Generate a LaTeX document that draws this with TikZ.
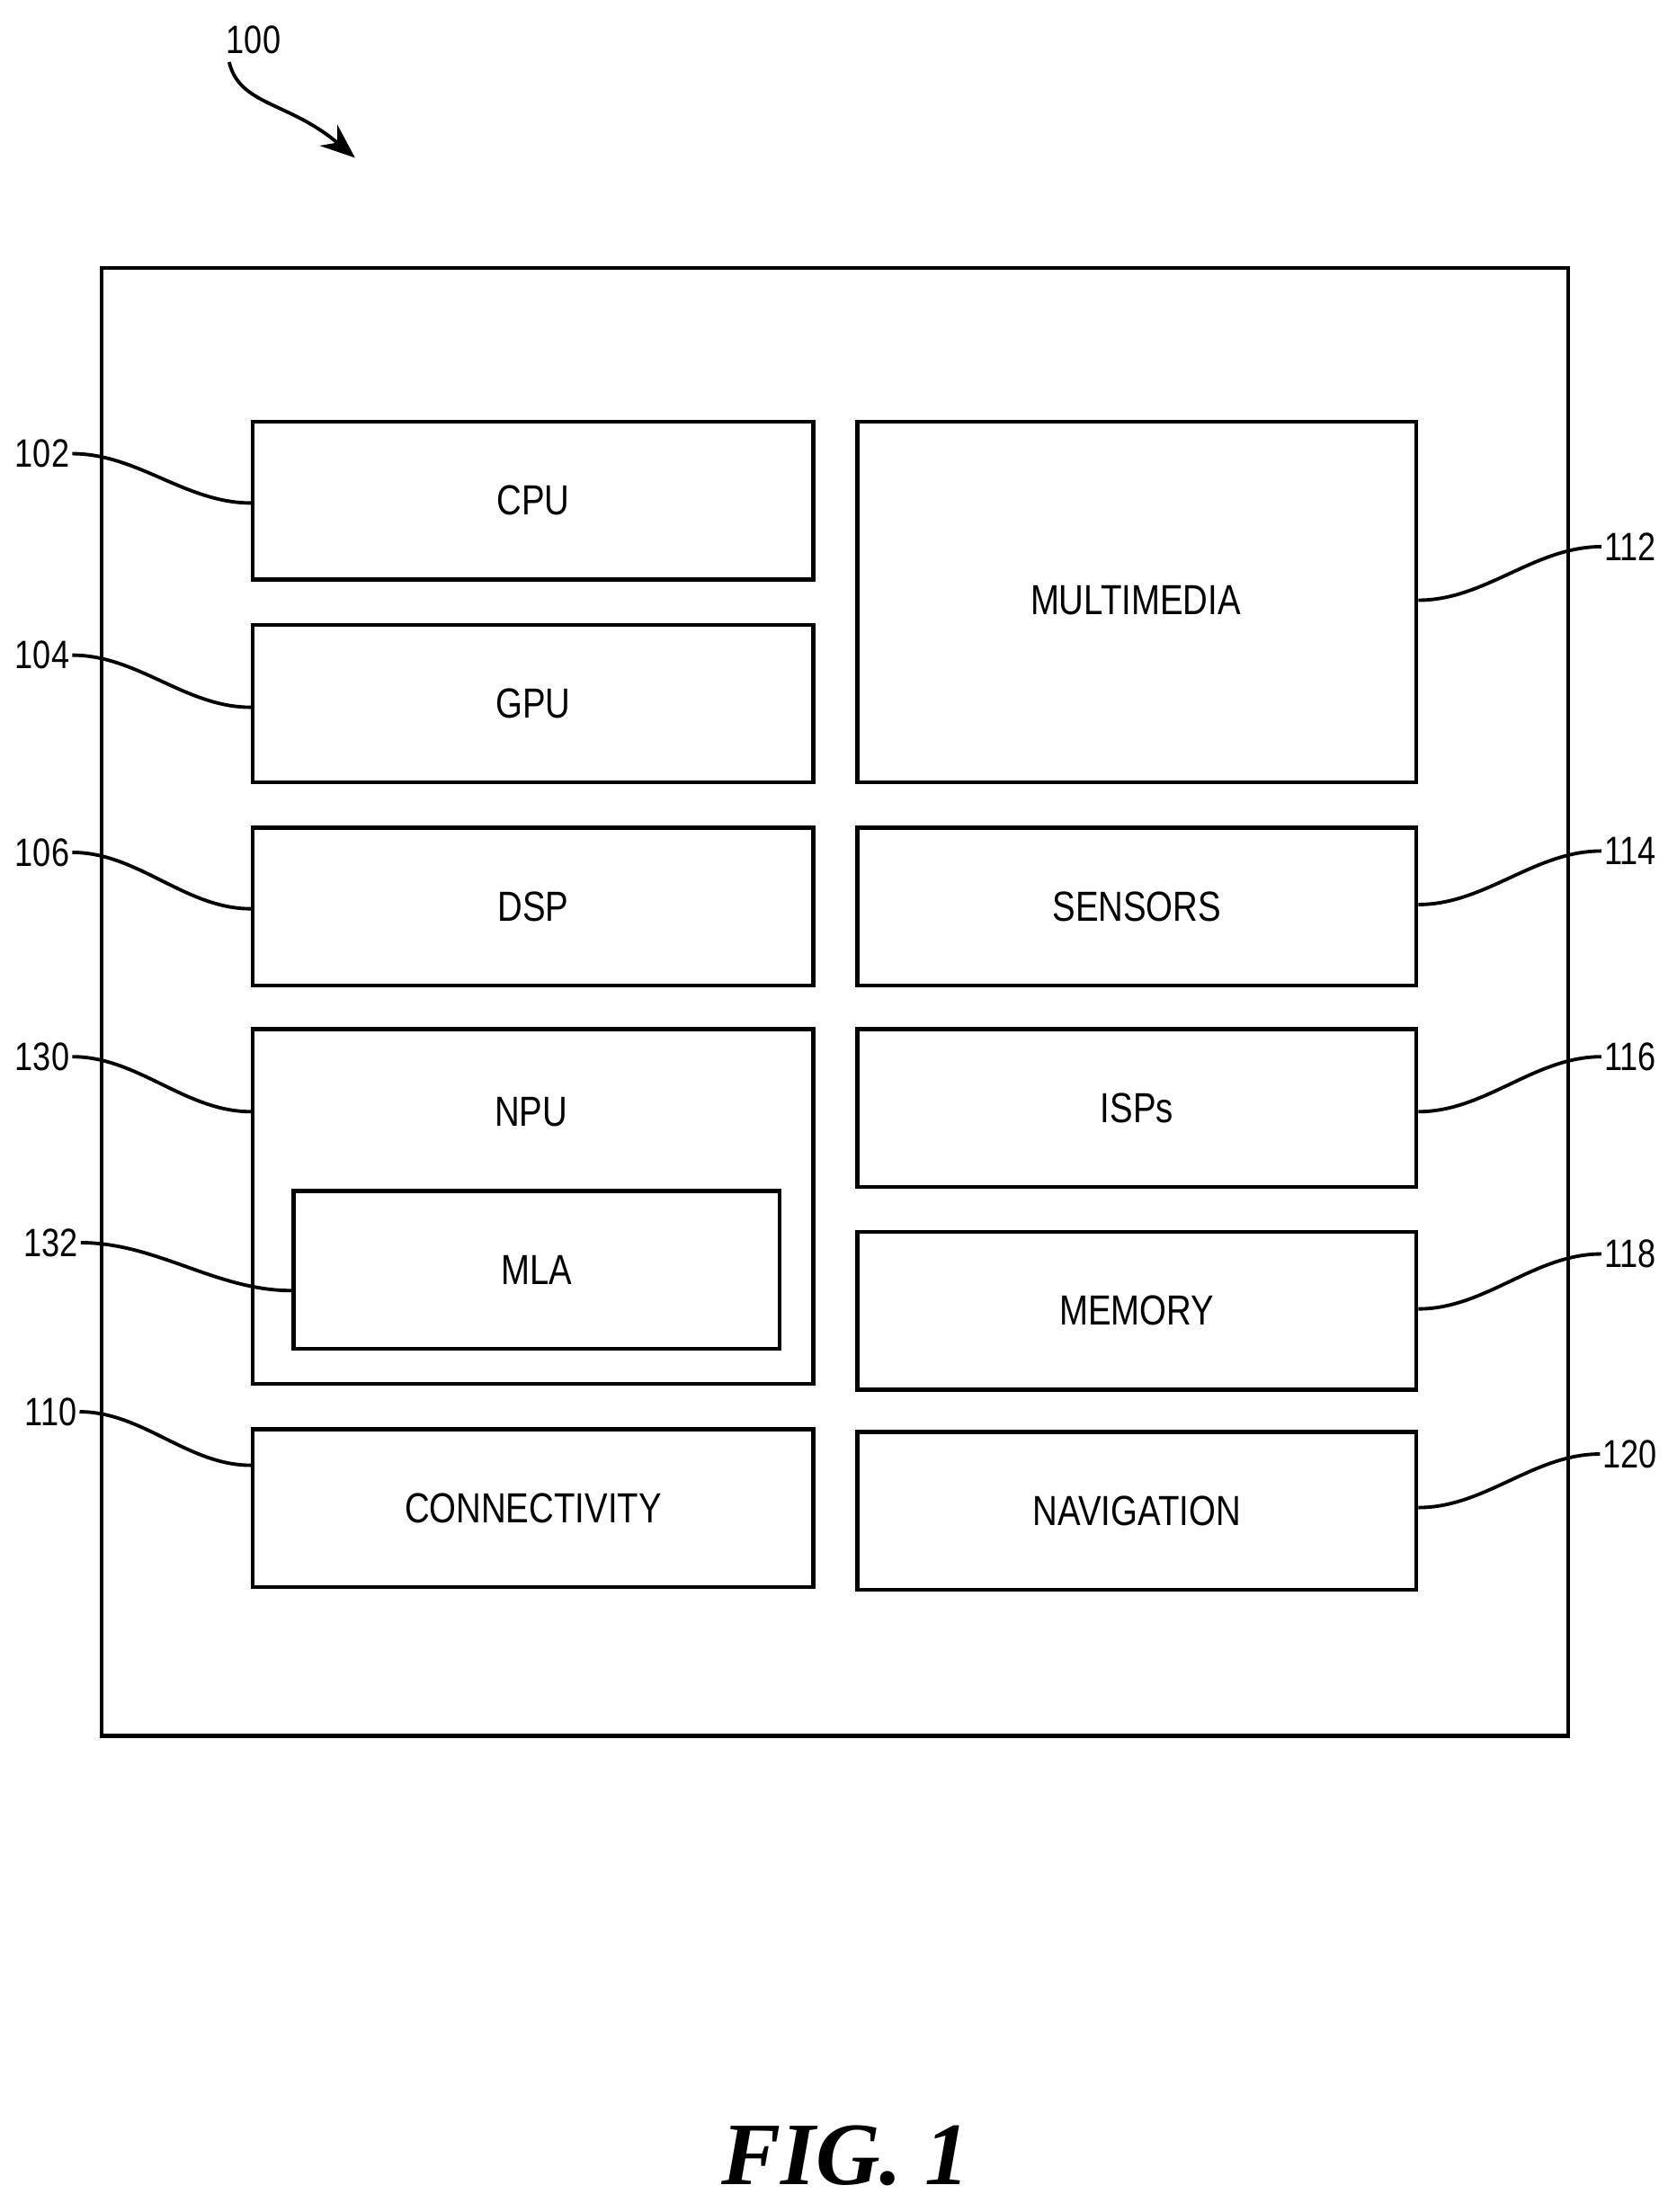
\documentclass[tikz,border=0pt]{standalone}
\usepackage{fontspec}
\setmainfont{Liberation Sans}[FakeStretch=0.82]
\newfontfamily\figfont{Liberation Serif}
\usetikzlibrary{positioning,arrows.meta}

\tikzset{
  blk/.style={draw, line width=1.6pt, inner sep=0pt, font=\fontsize{17}{20}\selectfont},
  ref/.style={font=\fontsize{16}{19}\selectfont, inner sep=1pt},
  lead/.style={line width=1.4pt, out=0, in=180, looseness=0.9},
}

\begin{document}
\begin{tikzpicture}[x=0.02cm, y=-0.02cm]
\useasboundingbox (0,0) rectangle (1190,1570);

%outer frame
\draw[line width=1.6pt] (72,190) rectangle (1113,1232);

%left column
\node[blk, anchor=north west, minimum width=7.96cm, minimum height=2.24cm] (cpu) at (178,298) {CPU};
\node[blk, anchor=north west, minimum width=7.96cm, minimum height=2.24cm] (gpu) at (178,442) {GPU};
\node[blk, anchor=north west, minimum width=7.96cm, minimum height=2.24cm] (dsp) at (178,586) {DSP};
\node[blk, anchor=north west, minimum width=7.96cm, minimum height=5.04cm] (npu) at (178,729) {};
\node[font=\fontsize{17}{20}\selectfont] (npulbl) at (377,789) {NPU};
\node[blk, anchor=north west, minimum width=6.9cm, minimum height=2.24cm] (mla) at (207,844) {MLA};
\node[blk, anchor=north west, minimum width=7.96cm, minimum height=2.24cm] (conn) at (178,1013) {CONNECTIVITY};

%right column
\node[blk, anchor=north west, minimum width=7.94cm, minimum height=5.12cm] (mm) at (607,298) {};
\node[font=\fontsize{17}{20}\selectfont] (mmlbl) at (806,426) {MULTIMEDIA};
\node[blk, anchor=north west, minimum width=7.94cm, minimum height=2.24cm] (sens) at (607,586) {SENSORS};
\node[blk, anchor=north west, minimum width=7.94cm, minimum height=2.24cm] (isp) at (607,729) {ISPs};
\node[blk, anchor=north west, minimum width=7.94cm, minimum height=2.24cm] (mem) at (607,873) {MEMORY};
\node[blk, anchor=north west, minimum width=7.94cm, minimum height=2.24cm] (nav) at (607,1015) {NAVIGATION};

%reference numerals
\node[ref] (r102) at (30,322) {102};
\node[ref] (r104) at (30,465) {104};
\node[ref] (r106) at (30,605) {106};
\node[ref] (r130) at (30,750) {130};
\node[ref] (r132) at (36,882) {132};
\node[ref] (r110) at (36,1002) {110};
\node[ref] (r112) at (1157,388) {112};
\node[ref] (r114) at (1157,604) {114};
\node[ref] (r116) at (1157,750) {116};
\node[ref] (r118) at (1157,890) {118};
\node[ref] (r120) at (1157,1032) {120};
\node[ref] (r100) at (180,28) {100};

%leaders
\draw[lead] (r102.east) to (cpu.west |- 0,357);
\draw[lead] (r104.east) to (gpu.west |- 0,502);
\draw[lead] (r106.east) to (dsp.west |- 0,645);
\draw[lead] (r130.east) to (npu.west |- 0,789);
\draw[lead] (r132.east) to (mla.west |- 0,916);
\draw[lead] (r110.east) to (conn.west |- 0,1040);
\draw[lead, out=180, in=0] (r112.west) to (mm.east |- 0,426);
\draw[lead, out=180, in=0] (r114.west) to (sens.east |- 0,642);
\draw[lead, out=180, in=0] (r116.west) to (isp.east |- 0,789);
\draw[lead, out=180, in=0] (r118.west) to (mem.east |- 0,929);
\draw[lead, out=180, in=0] (r120.west) to (nav.east |- 0,1070);

\coordinate (tip) at (252,112);
\draw[line width=1.4pt, -{Stealth[length=14pt, width=11pt]}] (r100.south west) ++(4,4)
  .. controls (170,75) and (205,72) .. (tip);

\node[font=\figfont\bfseries\itshape\fontsize{36}{40}\selectfont] (fig) at (600,1530) {FIG. 1};
\end{tikzpicture}
\end{document}
